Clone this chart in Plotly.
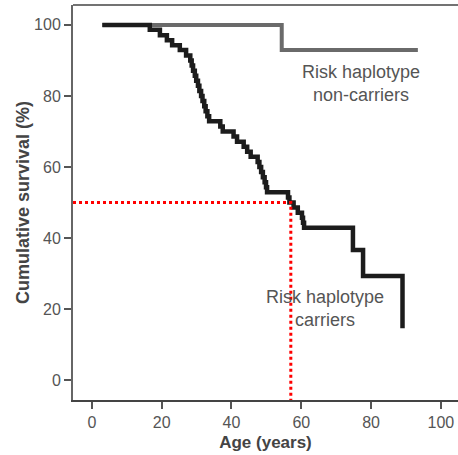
import plotly.graph_objects as go

# Kaplan-Meier estimates: event ages (years) and survival (%) after each event
carrier_ages = [3.0, 16.6, 19.5, 21.5, 23.0, 25.2, 27.0,
                28.2, 28.6, 29.0, 29.5, 29.9, 30.4, 30.8, 31.3, 31.7, 32.2, 32.6, 33.1, 33.6,
                36.8, 37.5, 40.6, 41.6, 43.5, 44.5, 45.5,
                47.5, 48.0, 48.5, 49.0, 49.5, 49.9, 50.2,
                56.2, 56.6, 57.8, 59.0, 60.2, 60.5, 60.8,
                74.8, 77.7, 89.0]
carrier_surv = [100.0, 98.6, 97.1, 95.7, 94.3, 92.9, 91.4,
                90.0, 88.6, 87.1, 85.7, 84.3, 82.9, 81.4, 80.0, 78.6, 77.1, 75.7, 74.3, 72.9,
                71.4, 70.0, 68.6, 67.1, 65.7, 64.3, 62.9,
                61.4, 60.0, 58.6, 57.1, 55.7, 54.3, 52.9,
                51.4, 50.0, 48.6, 47.1, 45.7, 44.3, 42.9,
                36.6, 29.3, 14.6]

noncarrier_ages = [3.0, 54.4, 93.4]
noncarrier_surv = [100.0, 92.9, 92.9]

median_age = 57.0
median_surv = 50.0

x_range = [-5.4, 104.9]
y_range = [-5.6, 105.6]
tick_vals = [0, 20, 40, 60, 80, 100]

fig = go.Figure()

fig.add_trace(go.Scatter(x=noncarrier_ages, y=noncarrier_surv, mode="lines",
                         line=dict(color="#6a6a6a", width=4, shape="hv"),
                         showlegend=False, hoverinfo="skip"))
fig.add_trace(go.Scatter(x=carrier_ages, y=carrier_surv, mode="lines",
                         line=dict(color="#1c1c1c", width=4.5, shape="hv"),
                         showlegend=False, hoverinfo="skip"))

# median survival guide
fig.add_trace(go.Scatter(x=[x_range[0], median_age, median_age],
                         y=[median_surv, median_surv, y_range[0]], mode="lines",
                         line=dict(color="#ff0000", width=3, dash="dot"),
                         showlegend=False, hoverinfo="skip"))

label_font = dict(family="Liberation Sans, Arial, sans-serif", size=18, color="#555555")
fig.add_annotation(x=77, y=83.4, text="Risk haplotype<br>non-carriers", showarrow=False,
                   font=label_font, align="center")
fig.add_annotation(x=66.8, y=20.3, text="Risk haplotype<br>carriers", showarrow=False,
                   font=label_font, align="center")

# top frame line
fig.add_shape(type="line", xref="paper", yref="paper", x0=0, x1=1, y0=1, y1=1,
              line=dict(color="#444444", width=1.5))

tick_font = dict(family="Liberation Sans, Arial, sans-serif", size=16, color="#555555")
fig.update_xaxes(range=x_range, tickvals=tick_vals, ticks="outside", ticklen=7,
                 tickwidth=1.5, tickcolor="#555555", showline=True, linecolor="#444444",
                 linewidth=1.5, showgrid=False, zeroline=False, tickfont=tick_font,
                 title=dict(text="<b>Age (years)</b>", standoff=6,
                            font=dict(family="Liberation Sans, Arial, sans-serif",
                                      size=17, color="#444444")))
fig.update_yaxes(range=y_range, tickvals=tick_vals, ticks="outside", ticklen=7,
                 tickwidth=1.5, tickcolor="#555555", showline=True, linecolor="#666666",
                 linewidth=2, showgrid=False, zeroline=False, tickfont=tick_font,
                 title=dict(text="<b>Cumulative survival (%)</b>", standoff=0,
                            font=dict(family="Liberation Sans, Arial, sans-serif",
                                      size=18, color="#444444")))

fig.update_layout(width=458, height=455, margin=dict(l=73, r=0, t=5, b=55),
                  plot_bgcolor="white", paper_bgcolor="white")

fig.write_html("out.html")
